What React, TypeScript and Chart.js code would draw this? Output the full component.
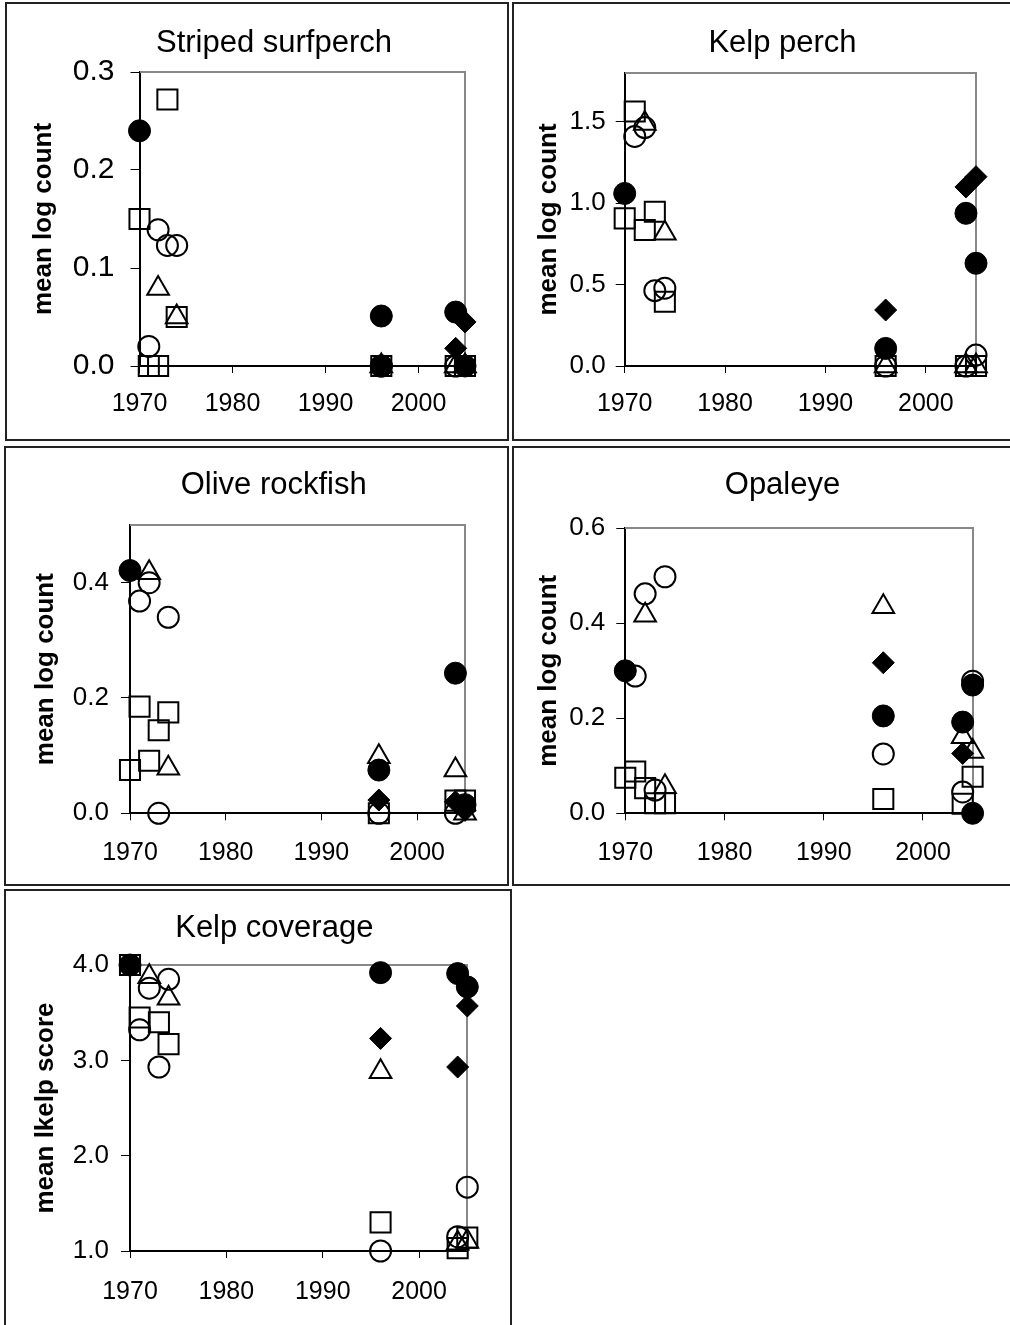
import React, { useEffect, useRef } from 'react';
import { Chart, registerables } from 'chart.js';

Chart.register(...registerables);

const FONT = '"Liberation Sans", Arial, Helvetica, sans-serif';

type Pt = [number, number];

// shared x axis
const xTickYears = [1970, 1980, 1990, 2000];
const xFirstYear = 1970;
const xLastYear = 2005;

// series order: filled circle, open circle, open square, open triangle, filled diamond

// Striped surfperch
const surfperchYTicks = [0, 0.1, 0.2, 0.3];
const surfperchFilledCircle: Pt[] = [[1970, 0.24], [1996, 0.051], [2004, 0.055], [1996, 0], [2005, 0]];
const surfperchOpenCircle: Pt[] = [[1971, 0.02], [1972, 0.139], [1973, 0.123], [1974, 0.123], [1996, 0], [2004, 0]];
const surfperchOpenSquare: Pt[] = [[1970, 0.15], [1971, 0], [1972, 0], [1973, 0.272], [1974, 0.05], [1996, 0], [2004, 0], [2005, 0]];
const surfperchOpenTriangle: Pt[] = [[1972, 0.079], [1974, 0.05], [1996, 0], [2004, 0], [2005, 0]];
const surfperchFilledDiamond: Pt[] = [[1996, 0], [2004, 0.018], [2005, 0.045], [2005, 0]];

// Kelp perch
const kelpPerchYTicks = [0, 0.5, 1.0, 1.5];
const kelpPerchFilledCircle: Pt[] = [[1970, 1.06], [1996, 0.108], [2004, 0.938], [2005, 0.631]];
const kelpPerchOpenCircle: Pt[] = [[1971, 1.41], [1972, 1.465], [1973, 0.463], [1974, 0.478], [1996, 0], [2004, 0], [2005, 0.067]];
const kelpPerchOpenSquare: Pt[] = [[1970, 0.907], [1971, 1.563], [1972, 0.836], [1973, 0.948], [1974, 0.395], [1996, 0], [2004, 0], [2005, 0]];
const kelpPerchOpenTriangle: Pt[] = [[1972, 1.49], [1974, 0.815], [1996, 0], [2004, 0], [2005, 0]];
const kelpPerchFilledDiamond: Pt[] = [[1996, 0.344], [2004, 1.1], [2005, 1.163]];

// Olive rockfish
const oliveYTicks = [0, 0.2, 0.4];
const oliveFilledCircle: Pt[] = [[1970, 0.421], [1996, 0.075], [2004, 0.243], [2005, 0.015]];
const oliveOpenCircle: Pt[] = [[1971, 0.368], [1972, 0.4], [1973, 0], [1974, 0.34], [1996, 0], [2004, 0]];
const oliveOpenSquare: Pt[] = [[1970, 0.075], [1971, 0.185], [1972, 0.091], [1973, 0.144], [1974, 0.175], [1996, 0], [2004, 0.022], [2005, 0.022]];
const oliveOpenTriangle: Pt[] = [[1972, 0.417], [1974, 0.078], [1996, 0.098], [2004, 0.075], [2005, 0]];
const oliveFilledDiamond: Pt[] = [[1996, 0.023], [2004, 0.02], [2005, 0.005]];

// Opaleye
const opaleyeYTicks = [0, 0.2, 0.4, 0.6];
const opaleyeFilledCircle: Pt[] = [[1970, 0.3], [1996, 0.205], [2004, 0.192], [2005, 0.27], [2005, 0]];
const opaleyeOpenCircle: Pt[] = [[1971, 0.289], [1972, 0.462], [1973, 0.049], [1974, 0.498], [1996, 0.125], [2004, 0.045], [2005, 0.278]];
const opaleyeOpenSquare: Pt[] = [[1970, 0.075], [1971, 0.088], [1972, 0.053], [1973, 0.021], [1974, 0.021], [1996, 0.03], [2004, 0.02], [2005, 0.077]];
const opaleyeOpenTriangle: Pt[] = [[1972, 0.417], [1974, 0.056], [1996, 0.435], [2004, 0.161], [2005, 0.13]];
const opaleyeFilledDiamond: Pt[] = [[1996, 0.317], [2004, 0.126], [2005, 0.27]];

// Kelp coverage
const kelpCoverYTicks = [1, 2, 3, 4];
const kelpCoverFilledCircle: Pt[] = [[1970, 4.0], [1996, 3.92], [2004, 3.91], [2005, 3.77]];
const kelpCoverOpenCircle: Pt[] = [[1971, 3.32], [1972, 3.757], [1973, 2.93], [1974, 3.85], [1996, 1.0], [2004, 1.15], [2005, 1.67]];
const kelpCoverOpenSquare: Pt[] = [[1970, 4.0], [1971, 3.45], [1973, 3.4], [1974, 3.17], [1996, 1.3], [2004, 1.03], [2005, 1.14]];
const kelpCoverOpenTriangle: Pt[] = [[1972, 3.878], [1974, 3.65], [1996, 2.88], [2004, 1.08], [2005, 1.1]];
const kelpCoverFilledDiamond: Pt[] = [[1970, 4.0], [1996, 3.23], [2004, 2.93], [2005, 3.57]];

const markerStyles = [
  { pointStyle: 'circle', pointRadius: 11, pointBackgroundColor: '#000', pointBorderColor: '#000', pointBorderWidth: 1 },
  { pointStyle: 'circle', pointRadius: 10.5, pointBackgroundColor: 'rgba(0,0,0,0)', pointBorderColor: '#000', pointBorderWidth: 2 },
  { pointStyle: 'rect', pointRadius: 14.2, pointBackgroundColor: 'rgba(0,0,0,0)', pointBorderColor: '#000', pointBorderWidth: 2 },
  { pointStyle: 'triangle', pointRadius: 12.5, pointBackgroundColor: 'rgba(0,0,0,0)', pointBorderColor: '#000', pointBorderWidth: 2 },
  { pointStyle: 'rectRot', pointRadius: 11, pointBackgroundColor: '#000', pointBorderColor: '#000', pointBorderWidth: 1 },
];

const X_AXIS_H = 60;
const PAD_LEFT = 8;
const Y_TITLE_SIZE = 26;

type PanelDef = {
  title: string;
  yLabel: string;
  yMin: number;
  yMax: number;
  yTicks: number[];
  series: Pt[][];
  box: { l: number; t: number; w: number; h: number };
  area: { left: number; right: number; top: number; bottom: number };
  yTitleCx: number;
  yTickFont: number;
  yTickPad: number;
  xTickPad: number;
  titlePos: { x: number; y: number };
};

const panels: PanelDef[] = [
  {
    title: 'Striped surfperch', yLabel: 'mean log count', yMin: 0, yMax: 0.3, yTicks: surfperchYTicks,
    series: [surfperchFilledCircle, surfperchOpenCircle, surfperchOpenSquare, surfperchOpenTriangle, surfperchFilledDiamond],
    box: { l: 5, t: 2, w: 504, h: 439 },
    area: { left: 134.5, right: 460, top: 70, bottom: 364 },
    yTitleCx: 39, yTickFont: 30, yTickPad: 16, xTickPad: 16, titlePos: { x: 269, y: 50 },
  },
  {
    title: 'Kelp perch', yLabel: 'mean log count', yMin: 0, yMax: 1.8, yTicks: kelpPerchYTicks,
    series: [kelpPerchFilledCircle, kelpPerchOpenCircle, kelpPerchOpenSquare, kelpPerchOpenTriangle, kelpPerchFilledDiamond],
    box: { l: 512, t: 2, w: 500, h: 439 },
    area: { left: 112.7, right: 464, top: 71, bottom: 364 },
    yTitleCx: 36.8, yTickFont: 26, yTickPad: 10, xTickPad: 16, titlePos: { x: 270.5, y: 49.7 },
  },
  {
    title: 'Olive rockfish', yLabel: 'mean log count', yMin: 0, yMax: 0.5, yTicks: oliveYTicks,
    series: [oliveFilledCircle, oliveOpenCircle, oliveOpenSquare, oliveOpenTriangle, oliveFilledDiamond],
    box: { l: 4, t: 446, w: 505, h: 440 },
    area: { left: 126, right: 461, top: 79, bottom: 367.3 },
    yTitleCx: 41.8, yTickFont: 26, yTickPad: 12, xTickPad: 18, titlePos: { x: 269.7, y: 48 },
  },
  {
    title: 'Opaleye', yLabel: 'mean log count', yMin: 0, yMax: 0.6, yTicks: opaleyeYTicks,
    series: [opaleyeFilledCircle, opaleyeOpenCircle, opaleyeOpenSquare, opaleyeOpenTriangle, opaleyeFilledDiamond],
    box: { l: 512, t: 446, w: 500, h: 440 },
    area: { left: 113.3, right: 460.6, top: 82.3, bottom: 367.3 },
    yTitleCx: 36.8, yTickFont: 26, yTickPad: 11, xTickPad: 18, titlePos: { x: 270.5, y: 48 },
  },
  {
    title: 'Kelp coverage', yLabel: 'mean lkelp score', yMin: 1, yMax: 4, yTicks: kelpCoverYTicks,
    series: [kelpCoverFilledCircle, kelpCoverOpenCircle, kelpCoverOpenSquare, kelpCoverOpenTriangle, kelpCoverFilledDiamond],
    box: { l: 4, t: 889, w: 508, h: 440 },
    area: { left: 126, right: 463.3, top: 76, bottom: 362 },
    yTitleCx: 41.8, yTickFont: 26, yTickPad: 12, xTickPad: 19, titlePos: { x: 270.3, y: 47.7 },
  },
];

const framePlugin = {
  id: 'grayFrame',
  beforeDatasetsDraw(chart: any) {
    const { ctx, chartArea } = chart;
    const { left, top, right, bottom } = chartArea;
    ctx.save();
    ctx.strokeStyle = '#888888';
    ctx.lineWidth = 2;
    ctx.beginPath();
    ctx.moveTo(Math.round(left), Math.round(top));
    ctx.lineTo(Math.round(right), Math.round(top));
    ctx.lineTo(Math.round(right), Math.round(bottom));
    ctx.stroke();
    ctx.restore();
  },
};

const panelTitlePlugin = {
  id: 'panelTitle',
  afterDraw(chart: any, _args: any, opts: any) {
    if (!opts || !opts.text) return;
    const { ctx } = chart;
    ctx.save();
    ctx.font = `${opts.size}px ${FONT}`;
    ctx.fillStyle = '#000';
    ctx.textAlign = 'center';
    ctx.textBaseline = 'alphabetic';
    ctx.fillText(opts.text, opts.x, opts.y);
    ctx.restore();
  },
};

function Panel({ p }: { p: PanelDef }) {
  const ref = useRef<HTMLCanvasElement | null>(null);
  useEffect(() => {
    if (!ref.current) return;
    const yAxisWidth = p.area.left - PAD_LEFT;
    const titleLine = Y_TITLE_SIZE * 1.2;
    const chart = new Chart(ref.current, {
      type: 'scatter',
      data: {
        datasets: p.series.map((s, i) => ({
          data: s.map(([x, y]) => ({ x, y })),
          showLine: false,
          clip: false,
          ...markerStyles[i],
        })) as any,
      },
      options: {
        animation: false,
        responsive: false,
        maintainAspectRatio: false,
        events: [],
        layout: {
          padding: {
            left: PAD_LEFT,
            right: p.box.w - p.area.right,
            top: p.area.top,
            bottom: p.box.h - p.area.bottom - X_AXIS_H,
          },
        },
        plugins: {
          legend: { display: false },
          tooltip: { enabled: false },
          title: { display: false },
          panelTitle: { text: p.title, x: p.titlePos.x, y: p.titlePos.y, size: 31 },
        } as any,
        scales: {
          x: {
            type: 'linear',
            position: 'bottom',
            min: xFirstYear,
            max: xLastYear,
            afterBuildTicks: (ax: any) => { ax.ticks = xTickYears.map((v) => ({ value: v })); },
            afterFit: (ax: any) => { ax.height = X_AXIS_H; },
            grid: { drawOnChartArea: false, drawTicks: true, tickLength: 7, color: '#000', tickColor: '#000', tickWidth: 1, lineWidth: 1 },
            border: { display: true, color: '#000', width: 2 },
            ticks: {
              color: '#000', font: { family: FONT, size: 25 }, padding: p.xTickPad,
              maxRotation: 0, minRotation: 0, autoSkip: false,
              callback: (v: any) => String(v),
            },
          },
          y: {
            type: 'linear',
            position: 'left',
            min: p.yMin,
            max: p.yMax,
            afterBuildTicks: (ax: any) => { ax.ticks = p.yTicks.map((v) => ({ value: v })); },
            afterFit: (ax: any) => { ax.width = yAxisWidth; },
            grid: { drawOnChartArea: false, drawTicks: true, tickLength: 9, color: '#000', tickColor: '#000', tickWidth: 1, lineWidth: 1 },
            border: { display: true, color: '#000', width: 2 },
            ticks: {
              color: '#000', font: { family: FONT, size: p.yTickFont }, padding: p.yTickPad,
              autoSkip: false,
              callback: (v: any) => Number(v).toFixed(1),
            },
            title: {
              display: true,
              text: p.yLabel,
              color: '#000',
              font: { family: FONT, size: Y_TITLE_SIZE, weight: 'bold' },
              padding: { top: p.yTitleCx - PAD_LEFT - titleLine / 2, bottom: 0 },
            },
          },
        },
      } as any,
      plugins: [framePlugin, panelTitlePlugin],
    });
    return () => chart.destroy();
  }, [p]);

  return (
    <>
      <canvas
        ref={ref}
        width={p.box.w}
        height={p.box.h}
        style={{ position: 'absolute', left: p.box.l, top: p.box.t, width: p.box.w, height: p.box.h, display: 'block' }}
      />
      <div
        style={{
          position: 'absolute', left: p.box.l, top: p.box.t, width: p.box.w, height: p.box.h,
          border: '2px solid #222', boxSizing: 'border-box', pointerEvents: 'none',
        }}
      />
    </>
  );
}

export default function App() {
  return (
    <div style={{ position: 'absolute', left: 0, top: 0, width: 1010, height: 1325, overflow: 'hidden', background: '#fff' }}>
      {panels.map((p) => (
        <Panel key={p.title} p={p} />
      ))}
    </div>
  );
}
